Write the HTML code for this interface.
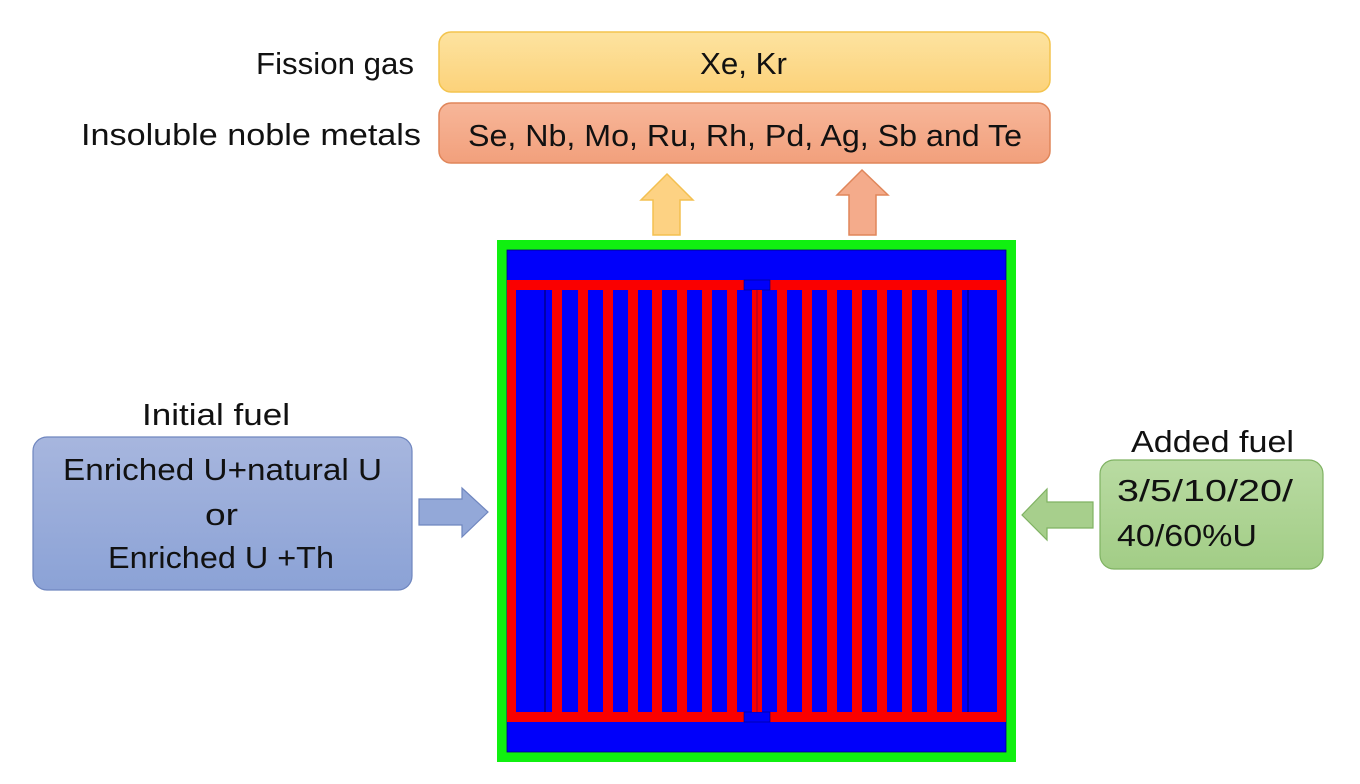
<!DOCTYPE html>
<html><head><meta charset="utf-8"><style>
html,body{margin:0;padding:0;background:#fff;}
svg{display:block;}
text{font-family:"Liberation Sans",sans-serif;fill:#111;}
</style></head><body>
<svg width="1360" height="784" viewBox="0 0 1360 784" xmlns="http://www.w3.org/2000/svg">
<defs>
<linearGradient id="gy" x1="0" y1="0" x2="0" y2="1"><stop offset="0" stop-color="#fde3a0"/><stop offset="1" stop-color="#fcd27a"/></linearGradient>
<linearGradient id="go" x1="0" y1="0" x2="0" y2="1"><stop offset="0" stop-color="#f7b699"/><stop offset="1" stop-color="#f2a07c"/></linearGradient>
<linearGradient id="gb" x1="0" y1="0" x2="0" y2="1"><stop offset="0" stop-color="#a7b6de"/><stop offset="1" stop-color="#8ba2d6"/></linearGradient>
<linearGradient id="gg" x1="0" y1="0" x2="0" y2="1"><stop offset="0" stop-color="#b9dba2"/><stop offset="1" stop-color="#a2cd86"/></linearGradient>
</defs>

<rect x="439" y="32" width="611" height="60" rx="12" fill="url(#gy)" stroke="#f3c44e" stroke-width="1.5"/>
<rect x="439" y="103" width="611" height="60" rx="12" fill="url(#go)" stroke="#e0865a" stroke-width="1.5"/>
<text x="256" y="74" font-size="31" textLength="158" lengthAdjust="spacingAndGlyphs">Fission gas</text>
<text x="81" y="145" font-size="31" textLength="340" lengthAdjust="spacingAndGlyphs">Insoluble noble metals</text>
<text x="700" y="74" font-size="31" textLength="87" lengthAdjust="spacingAndGlyphs">Xe, Kr</text>
<text x="468" y="146" font-size="31" textLength="554" lengthAdjust="spacingAndGlyphs">Se, Nb, Mo, Ru, Rh, Pd, Ag, Sb and Te</text>

<polygon points="667,174 693,200 680,200 680,235 653,235 653,200 641,200" fill="#fdd283" stroke="#f3c050" stroke-width="1.5"/>
<polygon points="862,170 888,195 876,195 876,235 849,235 849,195 837,195" fill="#f4ab8b" stroke="#e0865a" stroke-width="1.5"/>

<rect x="497" y="240" width="519" height="522" fill="#10f010"/>
<rect x="507" y="250" width="499" height="502" fill="#0000fa" stroke="#000080" stroke-width="0.8"/>
<rect x="507" y="280" width="237" height="10" fill="#fa0000"/>
<rect x="770" y="280" width="236" height="10" fill="#fa0000"/>
<rect x="507" y="712" width="237" height="10" fill="#fa0000"/>
<rect x="770" y="712" width="236" height="10" fill="#fa0000"/>
<rect x="507" y="280" width="9" height="442" fill="#fa0000"/>
<rect x="997" y="280" width="9" height="442" fill="#fa0000"/>
<rect x="744" y="280" width="26" height="10" fill="#0000fa" stroke="#000080" stroke-width="0.6"/>
<rect x="744" y="712" width="26" height="10" fill="#0000fa" stroke="#000080" stroke-width="0.6"/>
<line x1="545" y1="290" x2="545" y2="712" stroke="#000090" stroke-width="1.5"/>
<line x1="968" y1="290" x2="968" y2="712" stroke="#000090" stroke-width="1.5"/>
<g fill="#fa0000">
<rect x="552" y="290" width="10" height="422"/>
<rect x="578" y="290" width="10" height="422"/>
<rect x="603" y="290" width="10" height="422"/>
<rect x="628" y="290" width="10" height="422"/>
<rect x="652" y="290" width="10" height="422"/>
<rect x="677" y="290" width="10" height="422"/>
<rect x="702" y="290" width="10" height="422"/>
<rect x="727" y="290" width="10" height="422"/>
<rect x="752" y="290" width="10" height="422"/>
<rect x="777" y="290" width="10" height="422"/>
<rect x="802" y="290" width="10" height="422"/>
<rect x="827" y="290" width="10" height="422"/>
<rect x="852" y="290" width="10" height="422"/>
<rect x="877" y="290" width="10" height="422"/>
<rect x="902" y="290" width="10" height="422"/>
<rect x="927" y="290" width="10" height="422"/>
<rect x="952" y="290" width="10" height="422"/>
</g>
<line x1="757" y1="290" x2="757" y2="712" stroke="#800040" stroke-width="0.8"/>

<text x="142" y="425" font-size="31" textLength="148" lengthAdjust="spacingAndGlyphs">Initial fuel</text>
<rect x="33" y="437" width="379" height="153" rx="14" fill="url(#gb)" stroke="#6f86bf" stroke-width="1.2"/>
<text x="63" y="480" font-size="31" textLength="319" lengthAdjust="spacingAndGlyphs">Enriched U+natural U</text>
<text x="205" y="525" font-size="31" textLength="33" lengthAdjust="spacingAndGlyphs">or</text>
<text x="108" y="568" font-size="31" textLength="226" lengthAdjust="spacingAndGlyphs">Enriched U +Th</text>
<polygon points="419,499 462,499 462,488 488,512 462,537 462,525 419,525" fill="#93a8d8" stroke="#6f86bf" stroke-width="1.2"/>

<text x="1131" y="452" font-size="31" textLength="163" lengthAdjust="spacingAndGlyphs">Added fuel</text>
<rect x="1100" y="460" width="223" height="109" rx="14" fill="url(#gg)" stroke="#7fb262" stroke-width="1.2"/>
<text x="1117" y="501" font-size="31" textLength="176" lengthAdjust="spacingAndGlyphs">3/5/10/20/</text>
<text x="1117" y="546" font-size="31" textLength="140" lengthAdjust="spacingAndGlyphs">40/60%U</text>
<polygon points="1093,502 1047,502 1047,489 1022,515 1047,540 1047,528 1093,528" fill="#a7cf8c" stroke="#7fb262" stroke-width="1.2"/>
</svg>
</body></html>
